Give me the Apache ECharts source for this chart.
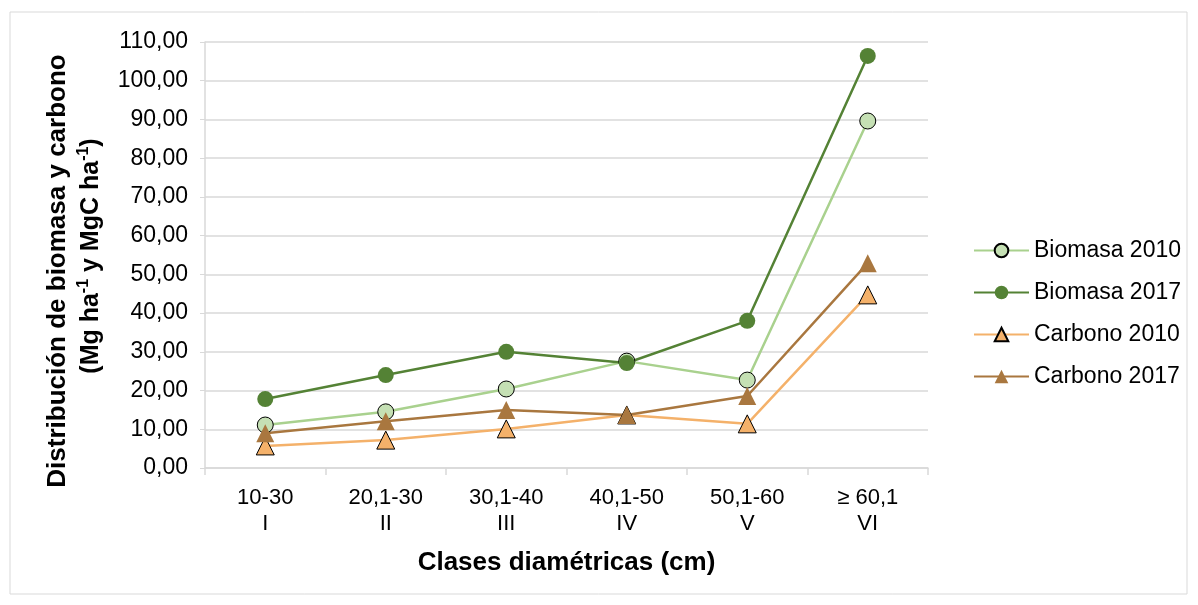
<!DOCTYPE html>
<html><head><meta charset="utf-8">
<script src="https://cdn.jsdelivr.net/npm/echarts@6/dist/echarts.min.js"></script>
<style>html,body{margin:0;padding:0;background:#fff}#c{width:1198px;height:605px}</style>
</head><body><div id="c"></div>
<script>
const categories = ['10-30\nI', '20,1-30\nII', '30,1-40\nIII', '40,1-50\nIV', '50,1-60\nV', '≥ 60,1\nVI'];
const biomasa2010 = [11.1, 14.5, 20.4, 27.6, 22.7, 89.6];
const biomasa2017 = [17.8, 24.0, 30.0, 27.1, 38.0, 106.4];
const carbono2010 = [5.7, 7.2, 10.1, 13.7, 11.4, 44.7];
const carbono2017 = [9.0, 12.1, 15.0, 13.7, 18.6, 52.9];
const seriesNames = ['Biomasa 2010', 'Biomasa 2017', 'Carbono 2010', 'Carbono 2017'];
const yTitle1 = 'Distribución de biomasa y carbono';
const yTitle2 = '{b|(Mg ha}{s|-1}{b| y MgC ha}{s|-1}{b|)}';
const xTitle = 'Clases diamétricas (cm)';

const font = 'Liberation Sans, Arial, sans-serif';
const chart = echarts.init(document.getElementById('c'));
function mk(name, data, lineColor, symbol, fill, border) {
  return {
    name, type: 'line', data, symbol, symbolSize: symbol === 'circle' ? 16 : 18,
    lineStyle: { color: lineColor, width: 2.5 },
    itemStyle: { color: fill, borderColor: border || fill, borderWidth: border ? 1 : 0 },
    emphasis: { disabled: true }, animation: false, z: 3
  };
}
chart.setOption({
  animation: false,
  graphic: [
    { type: 'rect', shape: { x: 10, y: 12, width: 1177, height: 582 }, style: { fill: 'none', stroke: '#d9d9d9', lineWidth: 1 }, silent: true },
    { type: 'text', x: 58, y: 271, rotation: Math.PI / 2, silent: true,
      style: { text: yTitle1, fontFamily: font, fontSize: 26, fontWeight: 'bold', fill: '#000', align: 'center', verticalAlign: 'middle' } },
    { type: 'text', x: 90, y: 256, rotation: Math.PI / 2, silent: true,
      style: { text: yTitle2, align: 'center', verticalAlign: 'middle',
        rich: {
          b: { fontFamily: font, fontSize: 25, fontWeight: 'bold', fill: '#000', lineHeight: 28, verticalAlign: 'bottom' },
          s: { fontFamily: font, fontSize: 16, fontWeight: 'bold', fill: '#000', lineHeight: 28, verticalAlign: 'top' }
        } } }
  ],
  grid: { left: 205, right: 270, top: 42, bottom: 137 },
  legend: {
    orient: 'vertical', left: 968, top: 234, itemGap: 19, itemWidth: 55, itemHeight: 17,
    textStyle: { fontFamily: font, fontSize: 23, color: '#000' },
    data: seriesNames
  },
  xAxis: {
    type: 'category', data: categories, boundaryGap: true,
    axisLine: { lineStyle: { color: '#d9d9d9', width: 1.5 } },
    axisTick: { show: true, length: 7, lineStyle: { color: '#d9d9d9', width: 1.5 } },
    axisLabel: { fontFamily: font, fontSize: 22, color: '#000', margin: 17, lineHeight: 26 },
    name: xTitle, nameLocation: 'middle', nameGap: 82,
    nameTextStyle: { fontFamily: font, fontSize: 26, fontWeight: 'bold', color: '#000' }
  },
  yAxis: {
    type: 'value', min: 0, max: 110, interval: 10,
    axisLine: { show: true, lineStyle: { color: '#d9d9d9', width: 1.5 } },
    axisTick: { show: true, length: 5, lineStyle: { color: '#d9d9d9' } },
    splitLine: { lineStyle: { color: '#d9d9d9', width: 1.5 } },
    axisLabel: { fontFamily: font, fontSize: 23, color: '#000', margin: 17, formatter: v => v.toFixed(2).replace('.', ',') }
  },
  series: [
    mk(seriesNames[0], biomasa2010, '#a9d18e', 'circle', '#c5e0b4', '#000'),
    mk(seriesNames[1], biomasa2017, '#548235', 'circle', '#548235'),
    mk(seriesNames[2], carbono2010, '#f4b16a', 'triangle', '#f4b16a', '#000'),
    mk(seriesNames[3], carbono2017, '#a9773f', 'triangle', '#a9773f')
  ]
});
</script></body></html>
